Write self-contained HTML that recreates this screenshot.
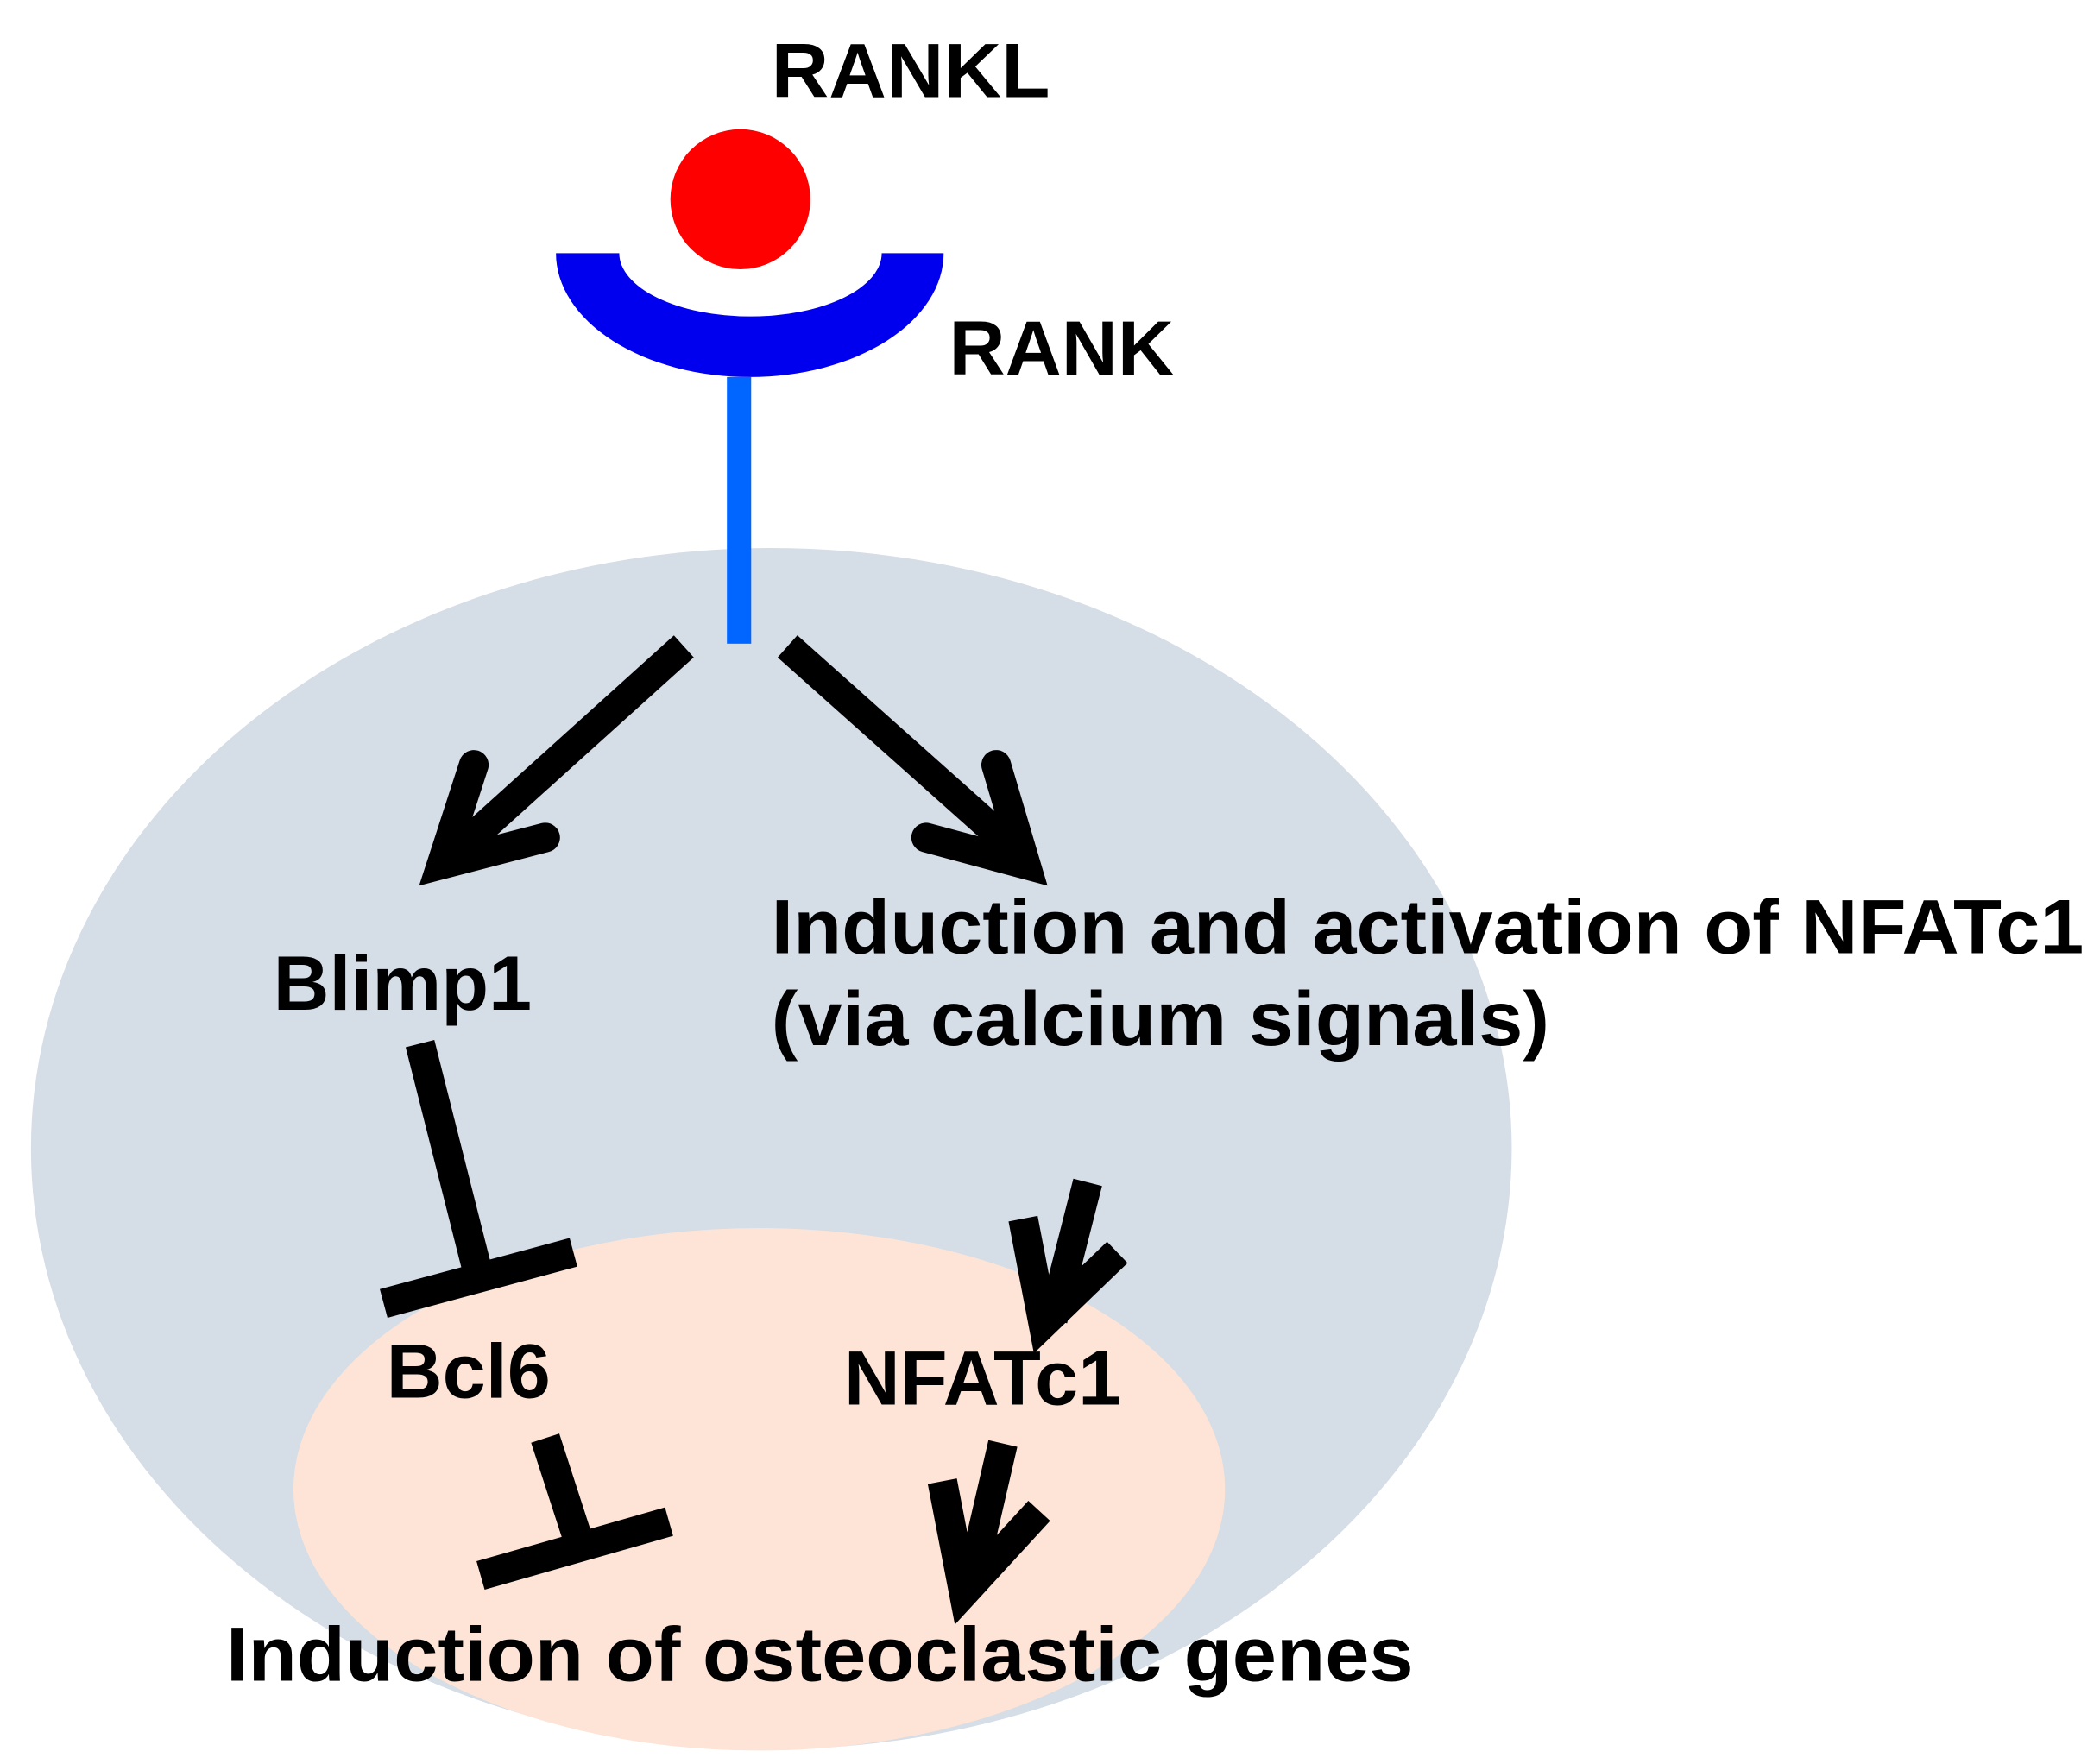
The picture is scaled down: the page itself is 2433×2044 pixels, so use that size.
<!DOCTYPE html>
<html><head><meta charset="utf-8"><style>html,body{margin:0;padding:0;background:#fff}svg{display:block}</style></head>
<body>
<svg width="2433" height="2044" viewBox="0 0 1560 1310" preserveAspectRatio="none" xmlns="http://www.w3.org/2000/svg">
<rect width="1560" height="1310" fill="#fff"/>
<ellipse cx="573" cy="853" rx="550" ry="446" fill="#d5dde6"/>
<ellipse cx="564" cy="1106" rx="346" ry="194" fill="#fde4d6"/>
<circle cx="550" cy="148" r="52" fill="#ff0000"/>
<path d="M413,188 H460 A97.5,47 0 0 0 655,188 H701 A144,92 0 0 1 413,188 Z" fill="#0000ee"/>
<rect x="540" y="280" width="18" height="198" fill="#0066ff"/>
<g stroke="#000" stroke-width="22" fill="none" stroke-linecap="butt" stroke-linejoin="miter">
<line x1="508" y1="480" x2="335" y2="636"/>
<polyline points="352,568 328,642 405,622" stroke-linecap="round"/>
<line x1="585" y1="480" x2="760" y2="636"/>
<polyline points="740,568 762,642 688,622" stroke-linecap="round"/>
<line x1="312" y1="775" x2="355" y2="945"/>
<line x1="285" y1="968" x2="426" y2="930"/>
<line x1="405" y1="1068" x2="430" y2="1145"/>
<line x1="357" y1="1170" x2="497" y2="1130"/>
<line x1="808" y1="878" x2="782" y2="980"/>
<polyline points="760,905 775,983 830,930"/>
<line x1="745" y1="1072" x2="720" y2="1180"/>
<polyline points="700,1100 716,1183 772,1122"/>
</g>
<g font-family="Liberation Sans, Arial, sans-serif" font-weight="bold" font-size="57" fill="#000">
<text x="573" y="72" textLength="207" lengthAdjust="spacingAndGlyphs">RANKL</text>
<text x="705" y="278" textLength="167" lengthAdjust="spacingAndGlyphs">RANK</text>
<text x="203" y="750" textLength="192" lengthAdjust="spacingAndGlyphs">Blimp1</text>
<text x="573" y="708" textLength="975" lengthAdjust="spacingAndGlyphs">Induction and activation of NFATc1</text>
<text x="573" y="776" textLength="578" lengthAdjust="spacingAndGlyphs">(via calcium signals)</text>
<text x="287" y="1038" textLength="122" lengthAdjust="spacingAndGlyphs">Bcl6</text>
<text x="627" y="1043" textLength="206" lengthAdjust="spacingAndGlyphs">NFATc1</text>
<text x="168" y="1248" textLength="882" lengthAdjust="spacingAndGlyphs">Induction of osteoclastic genes</text>
</g>
</svg>
</body></html>
